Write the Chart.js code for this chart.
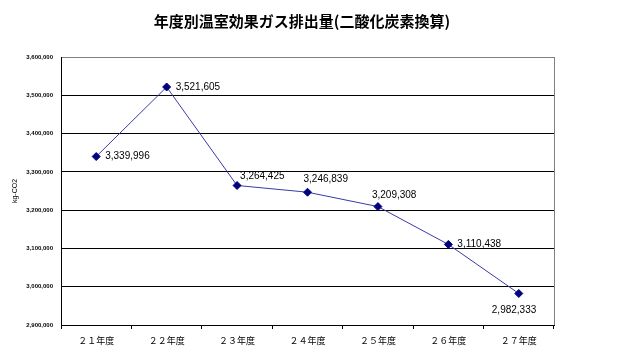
<!DOCTYPE html>
<html lang="ja">
<head>
  <meta charset="UTF-8" />
  <title>年度別温室効果ガス排出量</title>
  <script src="https://cdn.jsdelivr.net/npm/chart.js"></script>
  <style>
    html, body { margin: 0; padding: 0; background: #fff; }
    #chart { display: block; }
  </style>
</head>
<body>
  <canvas id="chart" width="622" height="358"></canvas>

  <script>
    const categories = ['２１年度', '２２年度', '２３年度', '２４年度', '２５年度', '２６年度', '２７年度'];
    const emissions = [3339996, 3521605, 3264425, 3246839, 3209308, 3110438, 2982333];
    const yTicks = [2900000, 3000000, 3100000, 3200000, 3300000, 3400000, 3500000, 3600000];

    const titleText = '年度別温室効果ガス排出量(二酸化炭素換算)';
    const yTitle = 'kg-CO2';

    // where each value label sits relative to its point (dx, dy)
    const labelOffsets = [[9, 0], [9, 0], [3, -9], [-4, -13], [-6, -11], [9, 0], [-27, 17]];

    const fmt = v => v.toLocaleString('en-US');

    const extras = {
      id: 'extras',
      afterDraw(chart) {
        const ctx = chart.ctx;
        const area = chart.chartArea;
        ctx.save();
        // right frame line
        ctx.strokeStyle = '#808080';
        ctx.lineWidth = 1;
        ctx.beginPath();
        ctx.moveTo(Math.round(area.right) + 0.5, area.top);
        ctx.lineTo(Math.round(area.right) + 0.5, area.bottom);
        ctx.stroke();

        // title
        ctx.fillStyle = '#000';
        ctx.font = 'bold 15px "Noto Sans CJK JP"';
        ctx.textAlign = 'center';
        ctx.textBaseline = 'middle';
        ctx.fillText(titleText, 302, 21);

        // value labels
        const meta = chart.getDatasetMeta(0);
        ctx.font = '10px "Liberation Sans"';
        ctx.textAlign = 'left';
        meta.data.forEach((pt, i) => {
          const off = labelOffsets[i];
          ctx.fillText(fmt(emissions[i]), pt.x + off[0], pt.y + off[1]);
        });
        ctx.restore();
      }
    };

    new Chart(document.getElementById('chart'), {
      type: 'line',
      data: {
        labels: categories,
        datasets: [{
          data: emissions,
          borderColor: '#3a3aa8',
          borderWidth: 1,
          pointStyle: 'rectRot',
          pointRadius: 4,
          pointBackgroundColor: '#000080',
          pointBorderColor: '#000080',
          tension: 0
        }]
      },
      options: {
        responsive: false,
        animation: false,
        layout: { padding: { top: 57, right: 68, bottom: 0, left: 0 } },
        plugins: {
          legend: { display: false },
          title: { display: false },
          tooltip: { enabled: false }
        },
        scales: {
          x: {
            offset: true,
            grid: {
              offset: true,
              drawOnChartArea: false,
              drawTicks: true,
              tickLength: 4,
              color: '#000'
            },
            border: { color: '#000', width: 1 },
            ticks: {
              color: '#000',
              font: { size: 9, family: '"Noto Sans CJK JP"' },
              padding: 6,
              maxRotation: 0
            },
            afterFit(scale) { scale.height = 33; }
          },
          y: {
            min: 2900000,
            max: 3600000,
            afterBuildTicks(scale) { scale.ticks = yTicks.map(v => ({ value: v })); },
            grid: {
              drawTicks: false,
              color: ctx => ctx.tick && ctx.tick.value === 3600000 ? '#808080' : '#000',
              lineWidth: 1
            },
            border: { color: '#000', width: 1 },
            ticks: {
              color: '#000',
              font: { size: 6, family: '"Liberation Sans"', weight: 'bold' },
              padding: 8,
              callback: v => fmt(v)
            },
            title: {
              display: true,
              text: yTitle,
              color: '#000',
              font: { size: 7, family: '"Liberation Sans"' },
              padding: { top: 11, bottom: 0 }
            },
            afterFit(scale) { scale.width = 61; }
          }
        }
      },
      plugins: [extras]
    });
  </script>
</body>
</html>
